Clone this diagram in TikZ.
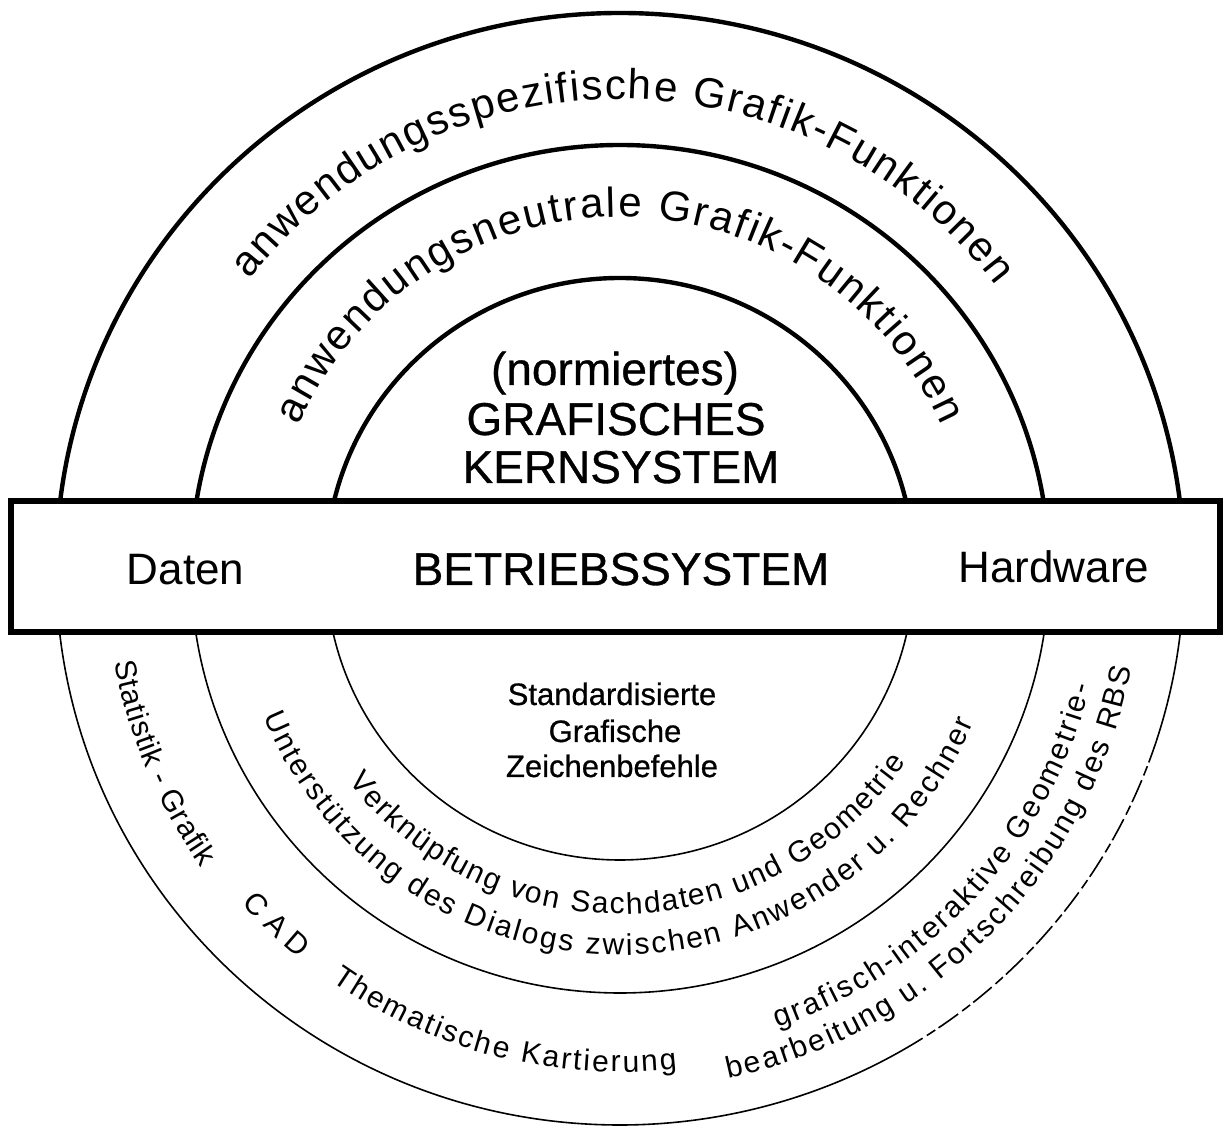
\documentclass[tikz,border=0pt]{standalone}
\usepackage{fontspec}
\setmainfont{Liberation Sans}
\newfontfamily\heavyfont[FakeBold=0.7]{Liberation Sans}
\usetikzlibrary{calc,decorations.text}

\newcommand{\ringfontlarge}{\fontsize{21pt}{21pt}\selectfont}
\newcommand{\ringfontsmall}{\fontsize{15pt}{15pt}\selectfont}

\begin{document}
\begin{tikzpicture}[x=0.5pt,y=0.5pt,
  ringtop/.style={line width=2.2pt},
  ringbottom/.style={line width=0.8pt},
  osbox/.style={line width=3pt, fill=white},
  txt/.style={inner sep=0pt, anchor=base},
  boxtext/.style={txt, font=\fontsize{22pt}{22pt}\selectfont},
  captext/.style={txt, font=\heavyfont\fontsize{23pt}{23pt}\selectfont},
  coretext/.style={txt, font=\heavyfont\fontsize{15.5pt}{15.5pt}\selectfont},
  arclabel/.style={decorate, decoration={text along path, text align=fit to path, text={#1}}},
]
\useasboundingbox (0,0) rectangle (1225,1129);
\coordinate (C) at (620,560);

% upper halves of the three rings (heavy stroke)
\foreach \rx/\ry in {564/556, 429/424, 294/291}
  \draw[ringtop] ($(C)+(\rx,0)$) arc[start angle=0, end angle=180, x radius=\rx, y radius=\ry];

% lower halves (thin stroke)
\draw[ringbottom] ($(C)+(-429,0)$) arc[start angle=180, end angle=360, x radius=429, y radius=424];
\draw[ringbottom] ($(C)+(-294,0)$) arc[start angle=180, end angle=360, x radius=294, y radius=291];
\draw[ringbottom] ($(C)+(-564,0)$) arc[start angle=180, end angle=300, x radius=564, y radius=556];
\draw[ringbottom, dash pattern=on 12pt off 2.5pt on 5pt off 2pt]
  ($(C)+(300:564 and 556)$) arc[start angle=300, end angle=342, x radius=564, y radius=556];
\draw[ringbottom] ($(C)+(342:564 and 556)$) arc[start angle=342, end angle=360, x radius=564, y radius=556];

% operating system band across the rings
\draw[osbox] (11,497) rectangle (1220,628);
\node[boxtext] (daten) at (185.5,544) {Daten};
\node[captext] (os) at (621,544) {BETRIEBSSYSTEM};
\node[boxtext] (hardware) at (1054,546) {Hardware};

% core system
\node[captext] (normiert) at (615,744) {(normiertes)};
\node[captext] (grafisches) at (616,694) {GRAFISCHES};
\node[captext] (kern) at (621,646) {KERNSYSTEM};

\node[coretext] (std1) at (612,424) {Standardisierte};
\node[coretext] (std2) at (615,387) {Grafische};
\node[coretext] (std3) at (612,352) {Zeichenbefehle};

% curved labels, upper half (clockwise, letters facing outwards)
\path[arclabel={|\ringfontlarge|anwendungsspezifische Grafik-Funktionen}]
  ($(C)+(142:470)$) arc[start angle=142, end angle=37, radius=470];
\path[arclabel={|\ringfontlarge|anwendungsneutrale Grafik-Funktionen}]
  ($(C)+(156:352)$) arc[start angle=156, end angle=24, radius=352];

% curved labels, lower half (counter-clockwise, letters facing the centre)
\path[arclabel={|\ringfontsmall|Verknüpfung von Sachdaten und Geometrie}]
  ($(C)+(218:345)$) arc[start angle=218, end angle=326, radius=345];
\path[arclabel={|\ringfontsmall|Unterstützung des Dialogs zwischen Anwender u. Rechner}]
  ($(C)+(202.5:386)$) arc[start angle=202.5, end angle=336.5, radius=386];

\path[arclabel={|\ringfontsmall|Statistik - Grafik}]
  ($(C)+(190.5:514)$) arc[start angle=190.5, end angle=215.5, radius=514];
\path[arclabel={|\ringfontsmall|CAD}]
  ($(C)+(221.5:505)$) arc[start angle=221.5, end angle=230.5, radius=505];
\path[arclabel={|\ringfontsmall|Thematische Kartierung}]
  ($(C)+(235:503)$) arc[start angle=235, end angle=276.5, radius=503];
\path[arclabel={|\ringfontsmall|grafisch-interaktive Geometrie-}]
  ($(C)+(289:485)$) arc[start angle=289, end angle=346, radius=485];
\path[arclabel={|\ringfontsmall|bearbeitung u. Fortschreibung des RBS}]
  ($(C)+(282:521)$) arc[start angle=282, end angle=349, radius=521];
\end{tikzpicture}
\end{document}
